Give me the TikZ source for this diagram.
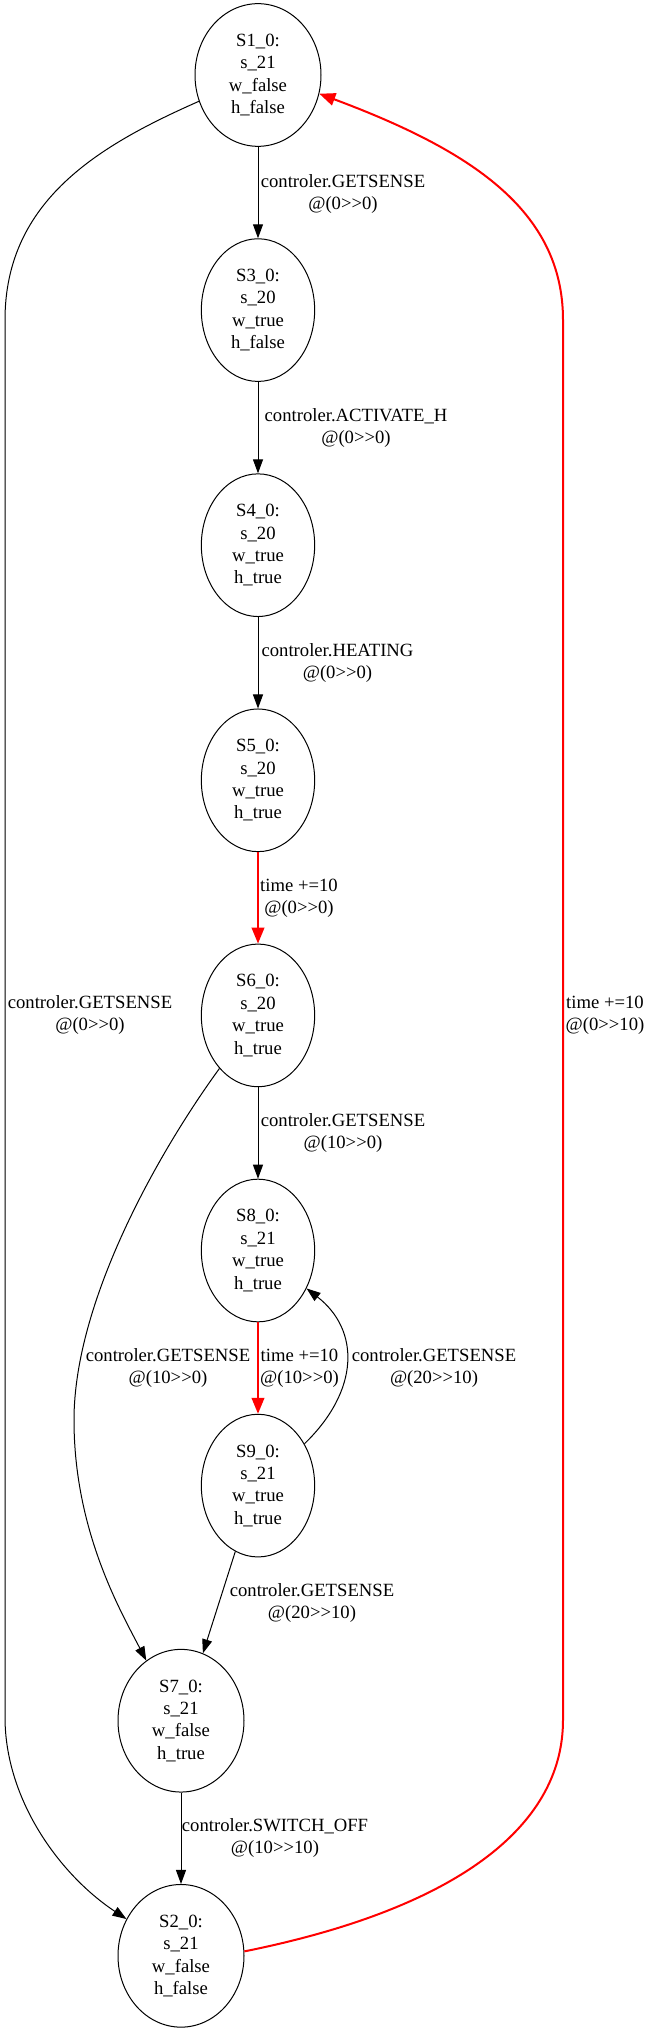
\documentclass[tikz,border=0pt]{standalone}
\usepackage{fontspec}
\newfontfamily\gvfont{Liberation Serif}
\usetikzlibrary{arrows.meta,shapes.geometric}
\begin{document}
\begin{tikzpicture}[x=0.75pt,y=-0.75pt,
  every node/.style={font=\gvfont\fontsize{14}{16.8}\selectfont},
  stwide/.style={ellipse, draw, line width=0.75pt, minimum width=94.5pt, minimum height=107pt, inner sep=0pt, align=center},
  stnarrow/.style={ellipse, draw, line width=0.75pt, minimum width=85pt, minimum height=107pt, inner sep=0pt, align=center},
  lbl/.style={align=center, inner sep=0pt},
  eb/.style={draw, line width=0.75pt, -{Triangle[length=10.5pt,width=7.5pt]}},
  er/.style={draw=red, line width=1.5pt, -{Triangle[length=12pt,width=9.5pt]}}
]
\useasboundingbox (0,0) rectangle (652,2029);
\node[stwide] (S1) at (258,75) {S1\_0:\\s\_21\\w\_false\\h\_false};
\node[stnarrow] (S3) at (258,310.1) {S3\_0:\\s\_20\\w\_true\\h\_false};
\node[stnarrow] (S4) at (258,545.2) {S4\_0:\\s\_20\\w\_true\\h\_true};
\node[stnarrow] (S5) at (258,780.3) {S5\_0:\\s\_20\\w\_true\\h\_true};
\node[stnarrow] (S6) at (258,1015.4) {S6\_0:\\s\_20\\w\_true\\h\_true};
\node[stnarrow] (S8) at (258,1250.5) {S8\_0:\\s\_21\\w\_true\\h\_true};
\node[stnarrow] (S9) at (258,1485.6) {S9\_0:\\s\_21\\w\_true\\h\_true};
\node[stwide] (S7) at (181,1720.7) {S7\_0:\\s\_21\\w\_false\\h\_true};
\node[stwide] (S2) at (181,1955.8) {S2\_0:\\s\_21\\w\_false\\h\_false};

\draw[eb] (S1.south) -- (S3.north);
\draw[eb] (S3.south) -- (S4.north);
\draw[eb] (S4.south) -- (S5.north);
\draw[er] (S5.south) -- (S6.north);
\draw[eb] (S6.south) -- (S8.north);
\draw[er] (S8.south) -- (S9.north);
\draw[eb] (S9.251) -- (S7.72);
\draw[eb] (S7.south) -- (S2.north);
\draw[eb] (S9.42) .. controls (360,1390) and (360,1330) .. (S8.-38);
\draw[eb] (S6.234) .. controls (160,1150) and (74,1300) .. (74,1420) .. controls (74,1530) and (120,1610) .. (S7.120);
\draw[eb] (S1.204) .. controls (100,145) and (5,200) .. (5,320) -- (5,1717) .. controls (5,1800) and (60,1875) .. (S2.146);
\draw[er] (S2.4) .. controls (450,1910) and (563,1830) .. (563,1720) -- (563,320) .. controls (563,210) and (470,150) .. (S1.-17);

\node[lbl] (L1) at (343,194) {controler.GETSENSE\\@(0>>0)};
\node[lbl] (L2) at (356,428) {controler.ACTIVATE\_H\\@(0>>0)};
\node[lbl] (L3) at (337.5,663) {controler.HEATING\\@(0>>0)};
\node[lbl] (L4) at (299,898) {time +=10\\@(0>>0)};
\node[lbl] (L5) at (343,1133) {controler.GETSENSE\\@(10>>0)};
\node[lbl] (L6) at (299.5,1368) {time +=10\\@(10>>0)};
\node[lbl] (L7) at (168,1368) {controler.GETSENSE\\@(10>>0)};
\node[lbl] (L8) at (434,1368) {controler.GETSENSE\\@(20>>10)};
\node[lbl] (L9) at (312,1603) {controler.GETSENSE\\@(20>>10)};
\node[lbl] (L10) at (275,1838) {controler.SWITCH\_OFF\\@(10>>10)};
\node[lbl] (L11) at (90,1015) {controler.GETSENSE\\@(0>>0)};
\node[lbl] (L12) at (605,1015) {time +=10\\@(0>>10)};
\end{tikzpicture}
\end{document}
